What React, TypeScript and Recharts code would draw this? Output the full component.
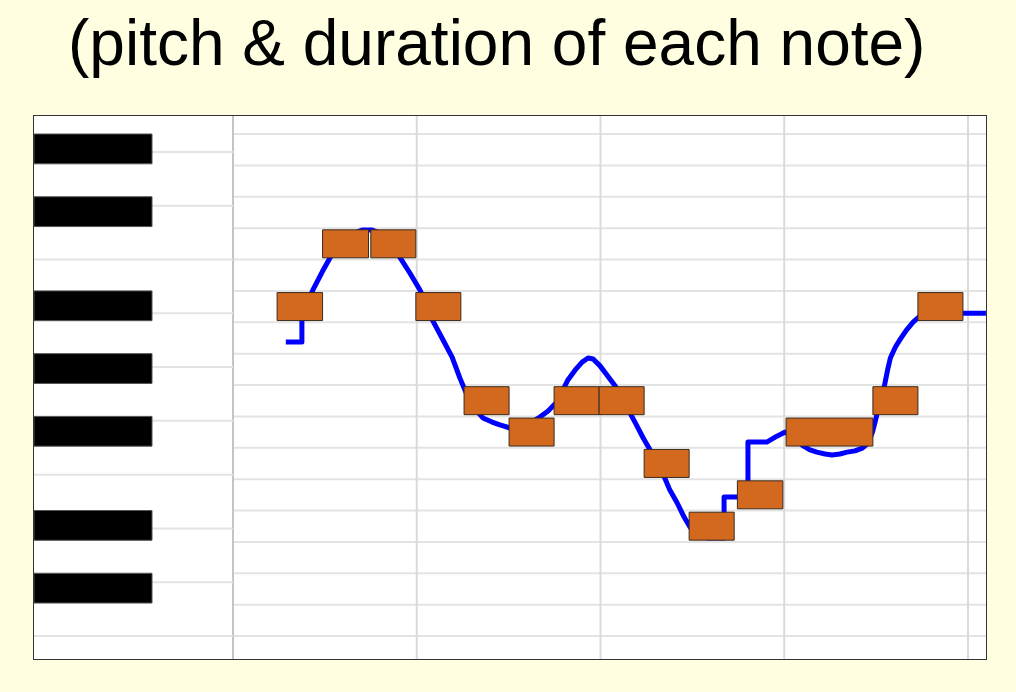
import { ComposedChart, Line, XAxis, YAxis, ReferenceArea, ReferenceLine } from 'recharts';

// Time in sixteenth-note steps, pitch in semitones (0 = C of the lower octave)
const noteStart = [0.96, 1.95, 3.0, 3.98, 5.03, 6.01, 6.99, 7.97, 8.95, 9.93, 10.98, 12.04, 13.93, 14.91];
const noteEnd = [1.95, 2.95, 3.98, 4.96, 6.01, 6.99, 7.97, 8.95, 9.93, 10.91, 11.97, 13.93, 14.91, 15.89];
const notePitch = [10, 12, 12, 10, 7, 6, 7, 7, 5, 3, 4, 6, 7, 10];

// Sung pitch contour
const curveT = [
  1.15, 1.5, 1.5, 1.59, 1.74, 1.94, 2.11, 2.33, 2.59, 2.81, 3.03, 3.31, 3.53, 3.64, 3.85, 4.07,
  4.2, 4.33, 4.55, 4.77, 4.94, 5.12, 5.29, 5.44, 5.64, 5.81, 6.03, 6.36, 6.68, 6.86, 7.03, 7.18,
  7.29, 7.45, 7.6, 7.73, 7.84, 7.99, 8.14, 8.32, 8.47, 8.62, 8.77, 8.93, 9.08, 9.23, 9.38, 9.51,
  9.67, 9.82, 9.95, 10.12, 10.34, 10.6, 10.69, 10.69, 11.21, 11.21, 11.62, 11.84, 12.02, 12.28,
  12.41, 12.56, 12.71, 12.89, 13.04, 13.21, 13.37, 13.54, 13.7, 13.83, 13.92, 14.0, 14.09, 14.18,
  14.25, 14.31, 14.42, 14.53, 14.66, 14.81, 14.96, 15.17, 16.39,
];
const curvePitch = [
  8.87, 8.87, 9.64, 10.05, 10.53, 11.1, 11.55, 12.06, 12.31, 12.44, 12.44, 12.28, 11.93, 11.55, 11.07, 10.53,
  10.11, 9.6, 9.0, 8.39, 7.72, 7.09, 6.7, 6.45, 6.32, 6.23, 6.13, 6.19, 6.48, 6.67, 6.93, 7.34,
  7.66, 7.98, 8.23, 8.36, 8.33, 8.11, 7.82, 7.47, 7.09, 6.67, 6.26, 5.81, 5.43, 5.05, 4.6, 4.15,
  3.74, 3.29, 2.97, 2.72, 2.62, 2.62, 2.62, 3.93, 3.93, 5.68, 5.68, 5.87, 6.0, 5.72,
  5.56, 5.43, 5.36, 5.3, 5.27, 5.3, 5.36, 5.4, 5.49, 5.65, 6.0, 6.45, 7.02, 7.47,
  7.98, 8.36, 8.71, 8.97, 9.25, 9.51, 9.7, 9.79, 9.79,
];

// Keyboard
const blackKeys = [1, 3, 6, 8, 10, 13, 15];
const whiteKeyEdges = [-0.5, 1.214, 2.929, 4.643, 6.357, 8.071, 9.786, 11.5, 13.214, 14.929];
const rowEdges = [-0.5, 0.5, 1.5, 2.5, 3.5, 4.5, 5.5, 6.5, 7.5, 8.5, 9.5, 10.5, 11.5, 12.5, 13.5, 14.5, 15.5];
const beatLines = [4, 8, 12, 16];

const X_MIN = -4.332;
const X_MAX = 16.392;
const KEY_EDGE = -1.763;

const data = curveT.map((t, i) => ({ t, p: curvePitch[i] }));

export default function App() {
  return (
    <div
      style={{
        position: 'absolute',
        left: 0,
        top: 0,
        width: 1016,
        height: 692,
        background: '#FFFEE0',
        overflow: 'hidden',
        fontFamily: '"Liberation Sans", Arial, sans-serif',
      }}
    >
      <div
        style={{
          position: 'absolute',
          left: 68,
          top: 11,
          fontSize: 64,
          lineHeight: '64px',
          whiteSpace: 'nowrap',
          color: '#000',
        }}
      >
        (pitch &amp; duration of each note)
      </div>
      <div
        style={{
          position: 'absolute',
          left: 33,
          top: 115,
          width: 954,
          height: 545,
          boxSizing: 'border-box',
          border: '1px solid #333',
          background: '#fff',
        }}
      >
        <ComposedChart width={952} height={543} data={data} margin={{ top: 0, right: 0, bottom: 0, left: 0 }}>
          <XAxis dataKey="t" type="number" domain={[X_MIN, X_MAX]} allowDataOverflow hide />
          <YAxis type="number" domain={[-1.233, 16.074]} allowDataOverflow hide />

          {/* piano roll rows */}
          {rowEdges.map((y) => (
            <ReferenceLine
              key={'r' + y}
              segment={[{ x: 0, y }, { x: X_MAX, y }]}
              stroke="#e3e3e3"
              strokeWidth={2}
              zIndex={-50}
            />
          ))}
          {beatLines.map((x) => (
            <ReferenceLine key={'b' + x} x={x} stroke="#dadada" strokeWidth={2} zIndex={-50} />
          ))}
          <ReferenceLine x={0} stroke="#c4c4c4" strokeWidth={2} zIndex={-50} />

          {/* keyboard */}
          {whiteKeyEdges.map((y) => (
            <ReferenceLine
              key={'w' + y}
              segment={[{ x: X_MIN, y }, { x: 0, y }]}
              stroke="#e3e3e3"
              strokeWidth={2}
              zIndex={-50}
            />
          ))}
          {blackKeys.map((p) => (
            <ReferenceArea
              key={'k' + p}
              x1={X_MIN}
              x2={KEY_EDGE}
              y1={p - 0.45}
              y2={p + 0.5}
              fill="#000"
              fillOpacity={1}
              stroke="#555"
              strokeWidth={1}
              ifOverflow="visible"
              zIndex={0}
            />
          ))}

          <Line
            dataKey="p"
            type="linear"
            stroke="#0000FF"
            strokeWidth={5}
            strokeLinejoin="round"
            dot={false}
            activeDot={false}
            isAnimationActive={false}
          />

          {/* notes */}
          {notePitch.map((p, i) => (
            <ReferenceArea
              key={'n' + i}
              x1={noteStart[i]}
              x2={noteEnd[i]}
              y1={p - 0.446}
              y2={p + 0.446}
              fill="#D2691E"
              fillOpacity={1}
              stroke="#3b2b1e"
              strokeWidth={1}
              ifOverflow="visible"
              zIndex={700}
            />
          ))}
        </ComposedChart>
      </div>
    </div>
  );
}
